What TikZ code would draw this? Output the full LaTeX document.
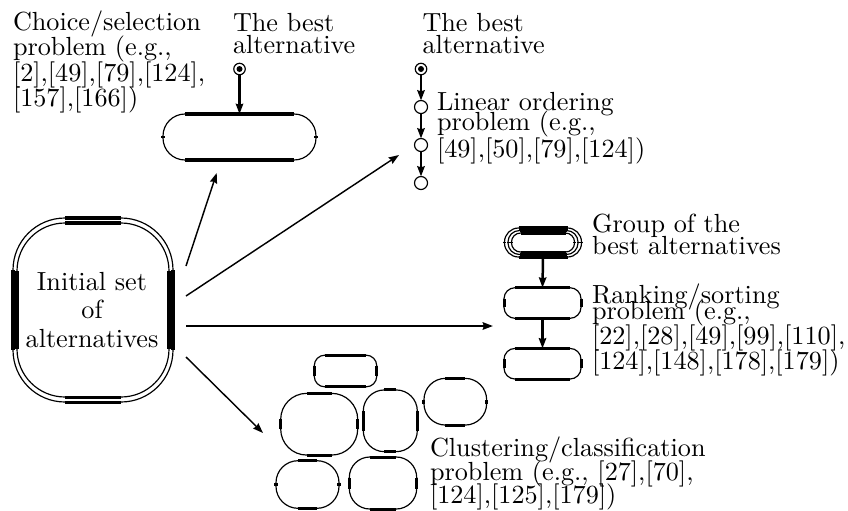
\documentclass[tikz,border=0pt]{standalone}
\usetikzlibrary{arrows.meta,calc}
\newcommand\pxu{0.3817pt}
\tikzset{
  arcline/.style={line width=0.45pt},
  straight/.style={line width=1.15pt},
  tip/.style={-{Stealth[length=3.9pt,width=2.8pt,inset=0.4pt]}},
  conn/.style={line width=0.95pt,tip},
  slant/.style={line width=0.55pt,tip},
  txt/.style={inner sep=0pt,outer sep=0pt,anchor=base west},
  ctxt/.style={inner sep=0pt,outer sep=0pt,anchor=base},
  ring/.style={circle,draw,arcline,inner sep=0pt,outer sep=0pt},
}
\newcommand\ovalnode[6]{%
  \node[draw,arcline,inner sep=0pt,outer sep=0pt,minimum width=#4*\pxu,minimum height=#5*\pxu,rounded corners=#6*\pxu] (#1) at (#2,#3) {};
  \draw[straight] ($(#1.north west)+(#6,0)$) -- ($(#1.north east)+(-#6,0)$);
  \draw[straight] ($(#1.south west)+(#6,0)$) -- ($(#1.south east)+(-#6,0)$);
  \draw[straight] ($(#1.north west)+(0,#6)$) -- ($(#1.south west)+(0,-#6)$);
  \draw[straight] ($(#1.north east)+(0,#6)$) -- ($(#1.south east)+(0,-#6)$);
}
\begin{document}
\begin{tikzpicture}[x=0.3817pt,y=-0.3817pt]
\useasboundingbox (0,0) rectangle (848,510);

% initial set
\ovalnode{initO}{93}{310}{160}{184}{52}
\ovalnode{initI}{93}{310}{152}{174}{48}
\node[ctxt] (i1) at (92,290) {Initial set};
\node[ctxt] (i2) at (92,318) {of};
\node[ctxt] (i3) at (92,347) {alternatives};

% choice
\ovalnode{choice}{239.5}{137}{153}{46}{22}
\node[ring,minimum size=11.5*\pxu] (best1) at (239.5,69) {};
\node[circle,fill,inner sep=0pt,minimum size=6*\pxu] (best1c) at (best1) {};
\draw[conn] (best1.south) -- (best1 |- choice.north);
\node[txt] (c1) at (13,30) {Choice/selection};
\node[txt] (c2) at (13,55.5) {problem (e.g.,};
\node[txt] (c3) at (13,81) {[2],[49],[79],[124],};
\node[txt] (c4) at (13,106.5) {[157],[166])};
\node[txt] (b1) at (233,31) {The best};
\node[txt] (b2) at (233,53) {alternative};

% linear ordering
\node[ring,minimum size=11.5*\pxu] (best2) at (421,69) {};
\node[circle,fill,inner sep=0pt,minimum size=6*\pxu] (best2c) at (best2) {};
\node[ring,minimum size=13*\pxu] (l1) at (421,107) {};
\node[ring,minimum size=13*\pxu] (l2) at (421,145) {};
\node[ring,minimum size=13*\pxu] (l3) at (421,183) {};
\draw[conn] (best2) -- (l1);
\draw[conn] (l1) -- (l2);
\draw[conn] (l2) -- (l3);
\node[txt] (bb1) at (422.5,31.5) {The best};
\node[txt] (bb2) at (422.5,53) {alternative};
\node[txt] (lt1) at (437,110.5) {Linear ordering};
\node[txt] (lt2) at (437,130.5) {problem (e.g.,};
\node[txt] (lt3) at (437,157) {[49],[50],[79],[124])};

% ranking
\ovalnode{grpA}{543}{242.5}{77}{29}{14}
\ovalnode{grpB}{543}{242.5}{70}{24}{11.5}
\ovalnode{grpC}{543}{242.5}{63}{19}{9}
\ovalnode{rk1}{542.5}{303}{77}{30.6}{11}
\ovalnode{rk2}{542.5}{363.7}{77}{30.6}{11}
\draw[conn] (grpA.south) -- (rk1.north);
\draw[conn] (rk1.south) -- (rk2.north);
\node[txt] (g1) at (592,232) {Group of the};
\node[txt] (g2) at (592,254) {best alternatives};
\node[txt] (r1) at (592,303) {Ranking/sorting};
\node[txt] (r2) at (592,319) {problem (e.g.,};
\node[txt] (r3) at (592,344.5) {[22],[28],[49],[99],[110],};
\node[txt] (r4) at (592,369.5) {[124],[148],[178],[179])};

% clusters
\ovalnode{clA}{345.5}{371}{62.4}{31.7}{10.5}
\ovalnode{clB}{319.2}{424.2}{77}{61.7}{26}
\ovalnode{clC}{390.3}{420.8}{54}{61.7}{21}
\ovalnode{clD}{455.3}{401.7}{62.7}{46.7}{21.5}
\ovalnode{clE}{307.5}{484.5}{63}{47.6}{22}
\ovalnode{clF}{383}{483}{67.4}{52}{20.5}
\node[txt] (k1) at (430,456) {Clustering/classification};
\node[txt] (k2) at (430,480) {problem (e.g., [27],[70],};
\node[txt] (k3) at (430,503) {[124],[125],[179])};

% connectors from the initial set
\coordinate (s1) at (186,266);
\coordinate (e1) at (216.7,173);
\coordinate (s2) at (186,296);
\coordinate (e2) at (399,155);
\coordinate (s3) at (186,326);
\coordinate (e3) at (493,326);
\coordinate (s4) at (186,357);
\coordinate (e4) at (263,433);
\draw[slant] (s1) -- (e1);
\draw[slant] (s2) -- (e2);
\draw[conn] (s3) -- (e3);
\draw[slant] (s4) -- (e4);
\end{tikzpicture}
\end{document}
